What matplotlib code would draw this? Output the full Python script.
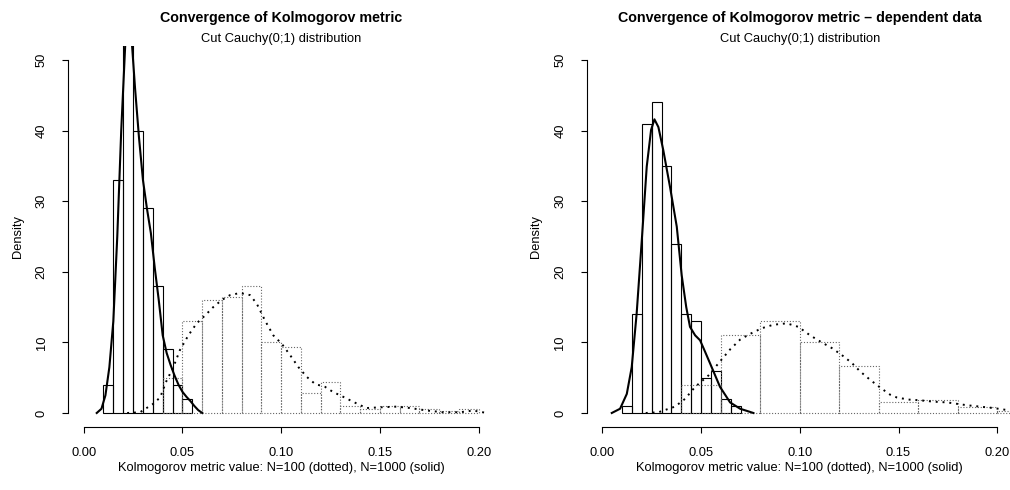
import matplotlib
matplotlib.use('Agg')
import matplotlib.pyplot as plt
import numpy as np

plt.rcParams['font.family'] = ['Liberation Sans', 'DejaVu Sans']

# ---- left panel: independent data ----
# N=1000 histogram (solid), bin edges and density
l_solid_edges = [0.010, 0.015, 0.020, 0.025, 0.030, 0.035, 0.040, 0.045, 0.050, 0.055]
l_solid_dens = [4, 33, 61, 40, 29, 18, 9, 4, 2]
# N=100 histogram (dotted)
l_dot_edges = [0.04, 0.05, 0.06, 0.07, 0.08, 0.09, 0.10, 0.11, 0.12, 0.13,
               0.14, 0.15, 0.16, 0.17, 0.18, 0.19, 0.20]
l_dot_dens = [5, 13, 16, 16.5, 18, 10, 9.3, 2.9, 4.4, 1.0, 0.6, 1.0, 1.0, 0.5, 0.3, 0.5]
# density curves
l_solid_kde_x = [0.0066, 0.009, 0.011, 0.013, 0.015, 0.017, 0.019, 0.021, 0.0225, 0.024,
                 0.026, 0.028, 0.030, 0.032, 0.034, 0.036, 0.038, 0.040, 0.042, 0.044,
                 0.046, 0.048, 0.050, 0.052, 0.054, 0.056, 0.058, 0.060]
l_solid_kde_y = [0, 0.6, 2.5, 6.5, 13, 25, 40, 52, 56, 54,
                 46, 39, 33, 29, 25.5, 20.5, 16, 11, 8.5, 6.8,
                 5.3, 4.0, 3.0, 2.3, 1.7, 1.0, 0.4, 0]
l_dot_kde_x = [0.022, 0.0285, 0.0352, 0.0387, 0.042, 0.0454, 0.0487, 0.053, 0.0572, 0.0614,
               0.0656, 0.0699, 0.0741, 0.0792, 0.0842, 0.0876, 0.0918, 0.096, 0.1003, 0.1045,
               0.1087, 0.113, 0.1172, 0.1222, 0.1264, 0.1306, 0.1349, 0.14, 0.1433, 0.150,
               0.1585, 0.1652, 0.1737, 0.182, 0.1905, 0.1972, 0.204]
l_dot_kde_y = [0, 0.1, 1.3, 2.2, 4.6, 6.5, 8.9, 11, 12.7, 13.8,
               15, 16, 16.7, 17, 16.7, 15.5, 13.1, 11, 9.8, 8.2,
               6.5, 5.1, 4.1, 3.7, 2.95, 2.4, 1.8, 1.1, 0.7, 0.8,
               0.9, 0.7, 0.35, 0.1, 0.1, 0.35, 0]

# ---- right panel: dependent data ----
r_solid_edges = [0.010, 0.015, 0.020, 0.025, 0.030, 0.035, 0.040, 0.045, 0.050,
                 0.055, 0.060, 0.065, 0.070]
r_solid_dens = [1, 14, 41, 44, 35, 24, 14, 13, 5, 6, 2, 1]
r_dot_edges = [0.04, 0.06, 0.08, 0.10, 0.12, 0.14, 0.16, 0.18, 0.20, 0.22]
r_dot_dens = [4, 11, 13, 10, 6.7, 1.6, 1.8, 0.9, 0.35]
r_solid_kde_x = [0.0048, 0.009, 0.0124, 0.0149, 0.0174, 0.020, 0.0225, 0.0247, 0.0264, 0.0284,
                 0.0309, 0.0343, 0.0377, 0.0402, 0.0425, 0.0444, 0.047, 0.0495, 0.052, 0.0546,
                 0.0596, 0.0647, 0.0698, 0.0765]
r_solid_kde_y = [0, 0.6, 2.7, 6.5, 14.1, 24.5, 34.9, 40.1, 41.6, 40.5,
                 37.2, 32, 26.4, 19.5, 15, 12.2, 11, 10.3, 8.7, 7,
                 3.7, 1.5, 0.6, 0]
r_dot_kde_x = [0.022, 0.0284, 0.0368, 0.0419, 0.047, 0.0537, 0.0596, 0.0647, 0.0698, 0.0748,
               0.0807, 0.0866, 0.0934, 0.0993, 0.1052, 0.1111, 0.1162, 0.1213, 0.1263, 0.1305,
               0.1356, 0.1407, 0.1457, 0.1491, 0.155, 0.1609, 0.1677, 0.1745, 0.1795, 0.1846,
               0.1913, 0.1981, 0.2066, 0.215]
r_dot_kde_y = [0, 0.1, 0.9, 2, 3.7, 5.3, 7.3, 9.0, 10.4, 11.2,
               12, 12.5, 12.7, 12.2, 11, 10, 9.2, 8.2, 7.1, 5.9,
               4.7, 3.6, 2.6, 2.2, 1.9, 1.8, 1.6, 1.5, 1.3, 1.1,
               0.9, 0.7, 0.35, 0.1]

titles = ['Convergence of Kolmogorov metric',
          'Convergence of Kolmogorov metric \u2013 dependent data']
subtitle = 'Cut Cauchy(0;1) distribution'
xlabel = 'Kolmogorov metric value: N=100 (dotted), N=1000 (solid)'
xticks = [0.00, 0.05, 0.10, 0.15, 0.20]
xtick_labels = ['0.00', '0.05', '0.10', '0.15', '0.20']
yticks = [0, 10, 20, 30, 40, 50]

panels = [
    (l_solid_edges, l_solid_dens, l_dot_edges, l_dot_dens,
     l_solid_kde_x, l_solid_kde_y, l_dot_kde_x, l_dot_kde_y),
    (r_solid_edges, r_solid_dens, r_dot_edges, r_dot_dens,
     r_solid_kde_x, r_solid_kde_y, r_dot_kde_x, r_dot_kde_y),
]

fig = plt.figure(figsize=(10.1, 4.9), dpi=100)
W, H = 1010, 490
lefts = [67.9, 586.5]
fs = 9.3

for i, (se, sd, de, dd, skx, sky, dkx, dky) in enumerate(panels):
    ax = fig.add_axes([lefts[i] / W, (H - 427.1) / H, 426.6 / W, 381.2 / H])
    se = np.array(se)
    de = np.array(de)
    ax.bar(se[:-1], sd, width=np.diff(se), align='edge', fill=False,
           edgecolor='black', linewidth=0.8)
    ax.bar(de[:-1], dd, width=np.diff(de), align='edge', fill=False,
           edgecolor='0.4', linewidth=0.8, linestyle=(0, (1, 1.6)))
    ax.plot(skx, sky, color='black', linewidth=1.5)
    ax.plot(dkx, dky, color='black', linewidth=1.4, linestyle=(0, (1, 2.5)))

    ax.set_xlim(-0.008, 0.208)
    ax.set_ylim(-2, 52)
    ax.spines['top'].set_visible(False)
    ax.spines['right'].set_visible(False)
    ax.spines['left'].set_bounds(0, 50)
    ax.spines['bottom'].set_bounds(0, 0.2)
    for s in ('left', 'bottom'):
        ax.spines[s].set_linewidth(0.8)
    ax.set_xticks(xticks)
    ax.set_xticklabels(xtick_labels)
    ax.set_yticks(yticks)
    ax.tick_params(axis='both', direction='out', length=4.6, width=0.8, labelsize=fs)
    ax.tick_params(axis='x', pad=9.5)
    ax.tick_params(axis='y', pad=10, labelrotation=90)
    for lab in ax.get_yticklabels():
        lab.set_verticalalignment('center')

    ax.text(0.5, 1.074, titles[i], transform=ax.transAxes, ha='center', va='center',
            fontsize=10.3, fontweight='bold')
    ax.text(0.5, 1.018, subtitle, transform=ax.transAxes, ha='center', va='center',
            fontsize=fs)
    ax.text(0.5, -0.107, xlabel, transform=ax.transAxes, ha='center', va='center',
            fontsize=fs)
    ax.text(-0.118, 0.5, 'Density', transform=ax.transAxes, ha='center', va='center',
            rotation=90, fontsize=fs)

fig.savefig('out.png', dpi=100)
